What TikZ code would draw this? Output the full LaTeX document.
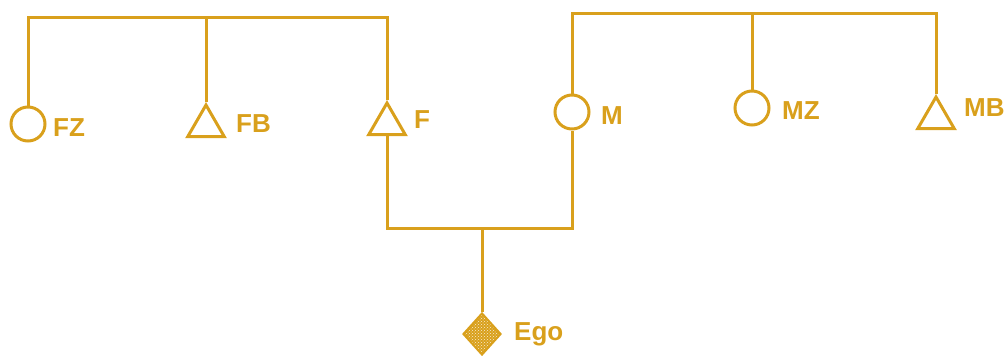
\documentclass[tikz,border=0pt]{standalone}
\usepackage{fontspec}
\setsansfont{Liberation Sans}
\usepackage{xcolor}
\usepackage{tikz}
\usetikzlibrary{shapes.geometric, patterns}

\definecolor{kin}{RGB}{217,160,28}

\tikzset{
  female/.style={circle, draw=kin, line width=3pt, minimum size=34pt, inner sep=0pt},
  male/.style={regular polygon, regular polygon sides=3, draw=kin, line width=3pt,
    minimum size=42pt, inner sep=0pt},
  egobox/.style={diamond, draw=kin, line width=2pt, minimum width=38pt, minimum height=42pt,
    inner sep=0pt, preaction={fill=kin}, pattern=crosshatch dots, pattern color=white!80!kin},
  kinline/.style={draw=kin, line width=3pt},
  kinlabel/.style={anchor=west, text=kin, inner sep=0pt,
    font=\sffamily\bfseries\fontsize{26}{26}\selectfont}
}

\begin{document}
\begin{tikzpicture}[x=1pt, y=-1pt]
\useasboundingbox (0,0) rectangle (1005,356);

% father's side
\node[female] (fz) at (28,124) {};
\node[male] (fb) at (206,126) {};
\node[male] (f) at (387,124) {};
% mother's side
\node[female] (m) at (572,112) {};
\node[female] (mz) at (752,108) {};
\node[male] (mb) at (936,118) {};
\node[egobox] (ego) at (482,334) {};

\node[kinlabel] (fzlab) at (53,128) {FZ};
\node[kinlabel] (fblab) at (236,124) {FB};
\node[kinlabel] (flab) at (414,120) {F};
\node[kinlabel] (mlab) at (601,116) {M};
\node[kinlabel] (mzlab) at (782,111) {MZ};
\node[kinlabel] (mblab) at (964,108) {MB};
\node[kinlabel] (egolab) at (514,334) {Ego};

\coordinate (ftop) at (206,17);
\coordinate (mtop) at (752,13);
\coordinate (sib) at (482,228);

\draw[kinline] (fz.north) |- (ftop) -| (f.north);
\draw[kinline] (ftop) -- (fb.north);
\draw[kinline] (m.north) |- (mtop) -| (mb.north);
\draw[kinline] (mtop) -- (mz.north);
\draw[kinline] (f.south) |- (sib) -| (m.south);
\draw[kinline] (sib) -- (ego.north);
\end{tikzpicture}
\end{document}
